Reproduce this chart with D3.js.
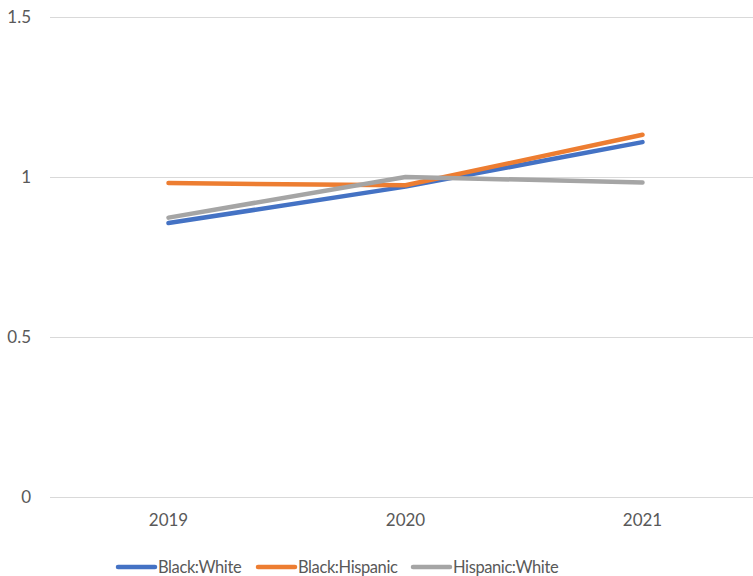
<!DOCTYPE html>
<html>
<head>
<meta charset="utf-8">
<script src="https://cdn.jsdelivr.net/npm/d3@7"></script>
<style>
  html, body { margin: 0; padding: 0; background: #fff; }
  svg text { font-family: Lato, "Open Sans", sans-serif; fill: #595959; }
</style>
</head>
<body>
<svg id="chart" width="753" height="576"></svg>
<script>
/* ── Data ─────────────────────────────────────────── */
const years = ['2019', '2020', '2021'];
const yTicks = [0, 0.5, 1, 1.5];
const blackWhite = [0.856, 0.970, 1.109];
const blackHispanic = [0.981, 0.974, 1.132];
const hispanicWhite = [0.873, 1.000, 0.983];

const series = [
  { name: 'Black:White', values: blackWhite, color: '#4472C4' },
  { name: 'Black:Hispanic', values: blackHispanic, color: '#ED7D31' },
  { name: 'Hispanic:White', values: hispanicWhite, color: '#A5A5A5' }
];

const width = 753, height = 576;
const margin = { top: 17, left: 50, bottom: 79 };
const fontStack = 'Lato, "Open Sans", sans-serif';

const svg = d3.select('#chart');

/* ── Scales ───────────────────────────────────────── */
const x = d3.scaleBand()
  .domain(years)
  .range([margin.left, margin.left + 237 * 3])
  .padding(0);

const y = d3.scaleLinear()
  .domain([0, 1.5])
  .range([height - margin.bottom, margin.top]);

/* ── Gridlines + y labels ─────────────────────────── */
const yAxis = d3.axisLeft(y)
  .tickValues(yTicks)
  .tickFormat(d3.format('~g'))
  .tickSize(-(width - margin.left))
  .tickPadding(19);

svg.append('g')
  .attr('transform', `translate(${margin.left},0)`)
  .call(yAxis)
  .call(g => g.select('.domain').remove())
  .call(g => g.selectAll('line').attr('stroke', '#d9d9d9').attr('stroke-width', 1))
  .call(g => g.selectAll('text').attr('font-size', 17).attr('fill', '#595959')
    .style('font-family', fontStack));

/* ── x labels ─────────────────────────────────────── */
const xAxis = d3.axisBottom(x).tickSize(0).tickPadding(17);
svg.append('g')
  .attr('transform', `translate(0,${y(0)})`)
  .call(xAxis)
  .call(g => g.select('.domain').remove())
  .call(g => g.selectAll('text').attr('font-size', 17).attr('fill', '#595959')
    .style('font-family', fontStack));

/* ── Lines ────────────────────────────────────────── */
const line = d3.line()
  .x((d, i) => x(years[i]) + x.bandwidth() / 2)
  .y(d => y(d));

svg.append('g')
  .selectAll('path')
  .data(series)
  .join('path')
  .attr('d', d => line(d.values))
  .attr('fill', 'none')
  .attr('stroke', d => d.color)
  .attr('stroke-width', 4.5)
  .attr('stroke-linecap', 'round')
  .attr('stroke-linejoin', 'round');

/* ── Legend ───────────────────────────────────────── */
const legendX = [118, 258, 413];
const legend = svg.append('g')
  .selectAll('g')
  .data(series)
  .join('g')
  .attr('transform', (d, i) => `translate(${legendX[i]},567)`);

legend.append('line')
  .attr('x1', 0).attr('x2', 37)
  .attr('stroke', d => d.color)
  .attr('stroke-width', 4.5)
  .attr('stroke-linecap', 'round');

legend.append('text')
  .attr('x', 40)
  .attr('dy', '0.35em')
  .attr('font-size', 16.5)
  .attr('letter-spacing', -0.4)
  .text(d => d.name);
</script>
</body>
</html>
